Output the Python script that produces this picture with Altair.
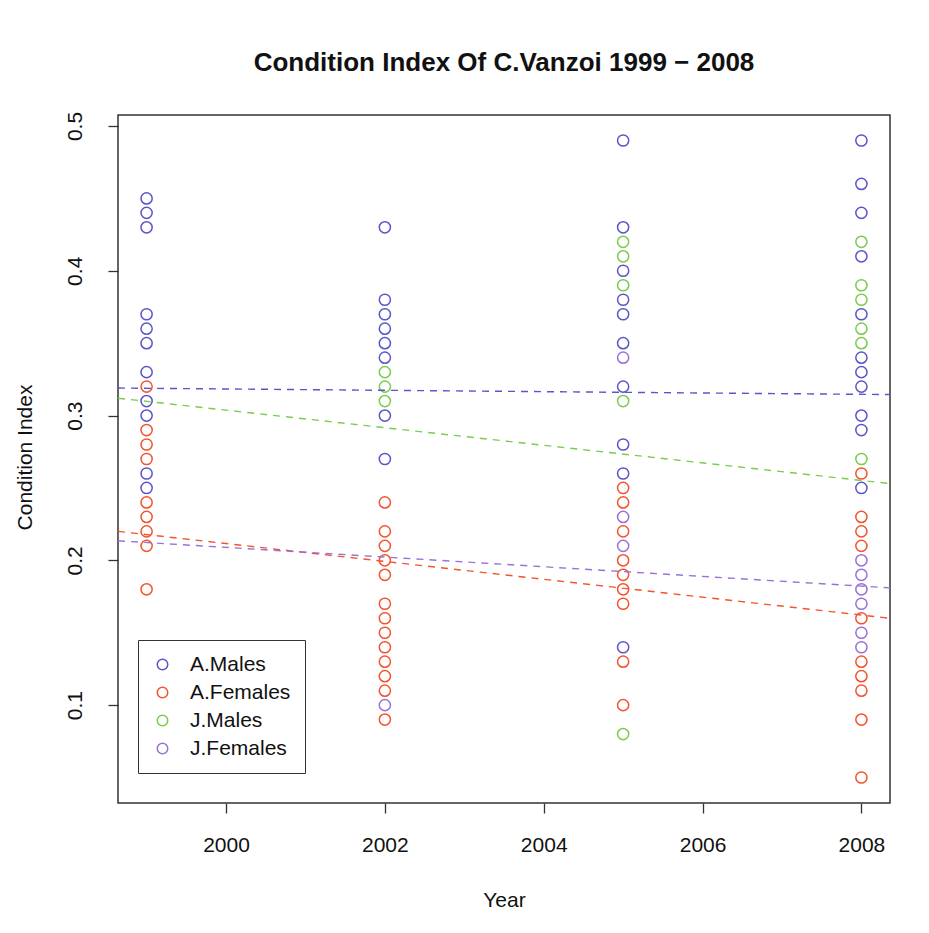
import altair as alt
import pandas as pd

# ---- data ----
groups = ["A.Males", "A.Females", "J.Males", "J.Females"]
colors = ["#5a55c8", "#f4532d", "#7acc4e", "#9a72d6"]

a_males = {
    1999: [0.45, 0.44, 0.43, 0.37, 0.36, 0.35, 0.33, 0.31, 0.30, 0.26, 0.25],
    2002: [0.43, 0.38, 0.37, 0.36, 0.35, 0.34, 0.30, 0.27],
    2005: [0.49, 0.43, 0.40, 0.38, 0.37, 0.35, 0.32, 0.28, 0.26, 0.14],
    2008: [0.49, 0.46, 0.44, 0.41, 0.37, 0.34, 0.33, 0.32, 0.30, 0.29, 0.25],
}
a_females = {
    1999: [0.32, 0.29, 0.28, 0.27, 0.24, 0.23, 0.22, 0.21, 0.18],
    2002: [0.24, 0.22, 0.21, 0.20, 0.19, 0.17, 0.16, 0.15, 0.14, 0.13, 0.12, 0.11, 0.09],
    2005: [0.25, 0.24, 0.22, 0.20, 0.19, 0.18, 0.17, 0.13, 0.10],
    2008: [0.26, 0.23, 0.22, 0.21, 0.16, 0.13, 0.12, 0.11, 0.09, 0.05],
}
j_males = {
    2002: [0.33, 0.32, 0.31],
    2005: [0.42, 0.41, 0.39, 0.31, 0.08],
    2008: [0.42, 0.39, 0.38, 0.36, 0.35, 0.27],
}
j_females = {
    2002: [0.10],
    2005: [0.34, 0.23, 0.21],
    2008: [0.20, 0.19, 0.18, 0.17, 0.15, 0.14],
}

# fitted trend lines (values at the left and right edge of the x range)
trend_years = [1998.64, 2008.36]
trend_a_males = [0.319, 0.3145]
trend_a_females = [0.220, 0.160]
trend_j_males = [0.312, 0.253]
trend_j_females = [0.2135, 0.181]

x_ticks = [2000, 2002, 2004, 2006, 2008]
y_ticks = [0.1, 0.2, 0.3, 0.4, 0.5]
x_domain = [1998.64, 2008.36]
y_domain = [0.0324, 0.5076]

# ---- build tables ----
rows = []
for g, d in zip(groups, [a_males, a_females, j_males, j_females]):
    for yr, vals in d.items():
        for v in vals:
            rows.append({"group": g, "year": yr, "ci": v})
pts = pd.DataFrame(rows)

trows = []
for g, tv in zip(groups, [trend_a_males, trend_a_females, trend_j_males, trend_j_females]):
    for yr, v in zip(trend_years, tv):
        trows.append({"group": g, "year": yr, "ci": v})
trend = pd.DataFrame(trows)

FONT = "Liberation Sans"

x_enc = alt.X(
    "year:Q",
    scale=alt.Scale(domain=x_domain, nice=False, zero=False),
    axis=alt.Axis(
        values=x_ticks, format="d", title="Year", grid=False, domain=False,
        tickSize=10, tickColor="#333333", tickWidth=1.3,
        labelFontSize=21, labelColor="#111111", labelPadding=21,
        titleFontSize=21, titleFontWeight="normal", titleColor="#111111",
        titleX=386, titleY=97, titleBaseline="middle", titleAlign="center",
    ),
)
y_enc = alt.Y(
    "ci:Q",
    scale=alt.Scale(domain=y_domain, nice=False, zero=False),
    axis=alt.Axis(
        values=y_ticks, format=".1f", title="Condition Index", grid=False, domain=False,
        tickSize=10, tickColor="#333333", tickWidth=1.3,
        labelFontSize=21, labelColor="#111111", labelPadding=23,
        labelAngle=270, labelAlign="center", labelBaseline="bottom",
        titleFontSize=21, titleFontWeight="normal", titleColor="#111111",
        titleAngle=270, titleX=-93, titleY=342, titleBaseline="middle", titleAlign="center",
    ),
)

points = alt.Chart(pts).mark_point(
    filled=False, size=125, strokeWidth=1.5, opacity=1, shape="circle"
).encode(
    x=x_enc,
    y=y_enc,
    color=alt.Color(
        "group:N",
        scale=alt.Scale(domain=groups, range=colors),
        legend=alt.Legend(
            title=None, orient="none", legendX=20, legendY=525,
            strokeColor="#333333", padding=14, fillColor="white",
            labelFontSize=21, labelColor="#111111", labelOffset=17,
            symbolType="circle", symbolSize=110, symbolStrokeWidth=1.5,
            rowPadding=6,
        ),
    ),
)

lines = alt.Chart(trend).mark_line(strokeDash=[7, 6], strokeWidth=1.4).encode(
    x=alt.X("year:Q"),
    y=alt.Y("ci:Q"),
    color=alt.Color("group:N", scale=alt.Scale(domain=groups, range=colors), legend=None),
    detail="group:N",
)

chart = (
    alt.layer(points, lines)
    .resolve_scale(color="independent")
    .properties(
        width=772,
        height=688,
        title=alt.TitleParams(
            "Condition Index Of C.Vanzoi 1999 \u2212 2008",
            fontSize=26, fontWeight="bold", font=FONT, color="#111111",
            anchor="middle", offset=35,
        ),
        autosize=alt.AutoSizeParams(type="none"),
        padding={"left": 110, "top": 107, "right": 30, "bottom": 115},
    )
    .configure(font=FONT, background="white")
    .configure_view(stroke="#333333", strokeWidth=1.5)
    .configure_axis(labelFont=FONT, titleFont=FONT)
    .configure_legend(labelFont=FONT)
)

chart.save("out.html", embed_options={"renderer": "svg", "actions": False})
